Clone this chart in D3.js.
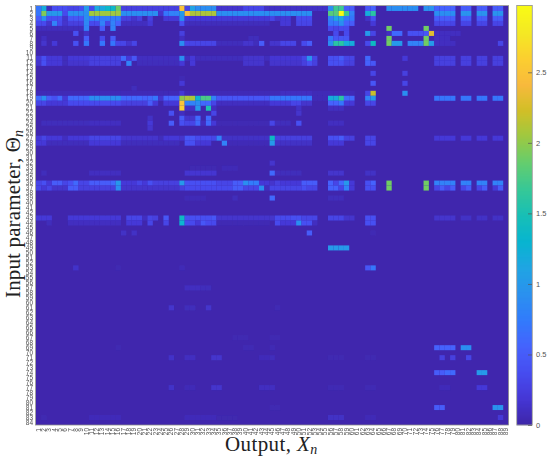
<!DOCTYPE html>
<html>
<head>
<meta charset="utf-8">
<script src="https://cdn.jsdelivr.net/npm/d3@7"></script>
<style>
  body { margin: 0; background: #fff; }
  svg { display: block; }
  text { font-family: "Liberation Sans", sans-serif; }
  .axis-title, .axis-title tspan { font-family: "Liberation Serif", serif; font-size: 21px; fill: #222; }
</style>
</head>
<body>
<svg width="550" height="458"></svg>
<script>
const rowCount = 84, colCount = 89;
const inputs = d3.range(1, rowCount + 1);
const outputs = d3.range(1, colCount + 1);
const barTicks = [0, 0.5, 1, 1.5, 2, 2.5];
const barMax = 2.97;
const background = 0.02;

// parula, sampled
const parula = ['#3e26a8', '#4537d5', '#474df0', '#4563fd', '#327bfc', '#2b91ef', '#20a5e3', '#08b5d0',
    '#18bfb6', '#37c897', '#64cd6f', '#9dc942', '#d1bf27', '#f8ba3d', '#fccf30', '#f5e924', '#f9fb15'];

// [row, first column, last column, value], later ones win
const top1 = [
    [1,1,1,.7],[1,2,2,1.2],[1,3,3,.08],[1,4,9,.38],[1,7,8,.3],[1,10,10,1.0],[1,11,11,.35],[1,12,15,1.15],[1,14,15,1.35],[1,16,16,1.9],
    [1,17,27,.25],[1,28,28,2.5],[1,29,29,.3],[1,30,30,1.1],[1,31,34,.9],[1,35,39,.15],[1,40,43,.3],[1,44,55,.12],
    [1,56,56,.9],[1,57,58,1.7],[1,59,60,.5],[1,63,63,.45],[1,64,64,.55],[1,67,72,.9],[1,74,75,.95],[1,76,79,.55],[1,81,82,.5],[1,84,85,.5],[1,87,88,.5],
    [2,1,1,.7],[2,2,2,1.95],[2,3,5,1.0],[2,6,6,.35],[2,7,10,.9],[2,11,16,2.05],[2,17,23,.9],[2,24,24,.15],[2,25,25,.7],[2,26,27,.8],[2,28,28,1.0],
    [2,29,29,2.45],[2,30,34,2.1],[2,35,52,.9],[2,56,57,1.8],[2,58,58,3.0],[2,59,59,1.7],[2,60,60,.8],[2,63,63,1.2],[2,64,64,1.6],[2,76,79,.9],[2,81,82,.95],[2,84,85,.95],[2,87,88,.95],
    [3,1,1,.5],[3,2,2,.9],[3,3,5,.4],[3,6,6,.15],[3,7,9,.45],[3,10,10,.9],[3,11,16,.75],[3,17,18,.25],[3,19,19,.15],[3,20,20,.25],[3,22,22,.25],[3,25,27,.2],[3,28,28,.9],[3,29,44,.2],
    [3,45,45,.3],[3,46,46,.15],[3,47,48,.2],[3,50,52,.35],[3,56,56,.8],[3,57,58,1.1],[3,59,60,.7],[3,63,63,.12],[3,64,64,.4],[3,76,79,.5],[3,81,82,.5],[3,84,85,.5],[3,87,88,.5],
    [4,1,2,.35],[4,3,3,.15],[4,4,4,.8],[4,5,5,.35],[4,6,6,.15],[4,7,9,.25],[4,10,10,.85],[4,11,12,.35],[4,13,13,.8],[4,14,14,.3],[4,15,15,.8],[4,16,16,.55],[4,17,22,.1],[4,22,22,.2],[4,28,28,.4],[4,29,44,.08],
    [4,47,48,.2],[4,50,52,.3],[4,56,57,.7],[4,58,58,.9],[4,59,59,.55],[4,60,60,.5],[4,64,64,.2],[4,76,79,.3],[4,81,82,.3],[4,84,85,.3],[4,87,88,.3],
    [5,1,9,.08],[5,10,10,.8],[5,13,13,.5],[5,15,15,.8],[5,56,56,.35],[5,57,57,.3],[5,58,59,.35],[5,67,67,1.9],[5,74,74,1.9],
    [6,8,8,.4],[6,10,10,.12],[6,28,28,.25],[6,57,57,.35],[6,59,59,.35],[6,63,63,1.0],[6,64,64,.3],[6,67,67,.1],[6,68,69,.6],[6,71,73,.4],[6,74,74,.45],[6,75,75,2.3],[6,76,80,.1],
    [7,2,2,.1],[7,10,10,.5],[7,13,13,.35],[7,15,15,.5],[7,28,28,.1],[7,56,56,.7],[7,57,59,.45],[7,67,67,1.9],[7,74,74,1.9],[7,76,78,.1],[7,41,42,.08],
    [8,2,2,.15],[8,4,4,.2],[8,8,8,.4],[8,10,10,.7],[8,13,13,.7],[8,15,15,.7],[8,16,17,.3],[8,18,18,.15],[8,19,19,.3],[8,28,28,.9],[8,29,34,.3],[8,35,42,.08],[8,40,41,.15],[8,43,43,.5],
    [8,45,47,.15],[8,47,49,.3],[8,51,51,.35],[8,52,52,.5],[8,56,56,.9],[8,57,58,1.6],[8,59,60,1.2],[8,63,63,.35],[8,64,64,1.4],[8,67,67,1.9],[8,68,69,1.0],[8,71,71,.8],[8,72,73,.8],[8,74,74,1.9],[8,75,75,1.0],[8,76,79,.1],[8,88,88,.3],
    [11,1,1,.2],[11,2,2,.4],[11,3,5,.2],[11,6,6,.08],[11,7,10,.2],[11,11,16,.25],[11,17,17,.6],[11,18,18,.2],[11,19,19,.45],[11,20,27,.1],[11,28,28,.9],[11,29,29,.1],[11,30,30,.2],[11,31,44,.08],[11,40,43,.15],
    [11,45,50,.18],[11,51,51,.3],[11,52,52,.95],[11,53,53,.3],[11,56,57,.4],[11,58,58,.5],[11,59,60,.3],[11,63,63,.6],[11,70,70,.2],[11,76,79,.25],[11,81,82,.25],[11,84,85,.25],[11,87,88,.25],
    [12,1,1,.15],[12,2,2,.4],[12,3,5,.2],[12,6,6,.08],[12,7,10,.15],[12,11,16,.25],[12,18,18,.8],[12,20,27,.08],[12,28,28,.2],[12,30,30,.2],[12,40,43,.15],
    [12,45,50,.15],[12,51,51,.25],[12,52,52,.4],[12,53,53,.25],[12,56,58,.4],[12,59,60,.25],[12,63,63,.55],[12,64,64,.45],[12,76,79,.25],[12,81,82,.25],[12,84,85,.25],[12,87,88,.25],
    [14,64,64,.3],[14,70,70,.25],
    [15,28,28,.05],
    [16,28,28,.2],[16,64,64,.45],[16,70,70,.3],
    [17,19,19,.08],
    [18,1,60,.06],[18,28,28,.2],[18,47,52,.1],[18,63,63,.3],[18,64,64,2.2],[18,70,70,.9]
];

const top2 = [
    [19,1,1,.6],[19,2,2,.9],[19,3,3,.5],[19,4,4,.4],[19,5,5,.6],[19,6,6,.2],[19,7,10,.6],[19,11,16,.9],[19,17,20,.6],[19,21,21,.55],[19,22,22,.6],[19,23,23,.7],[19,24,24,.15],[19,25,27,.55],
    [19,28,28,2.0],[19,29,30,2.1],[19,31,31,1.3],[19,32,33,1.75],[19,34,34,.8],[19,35,44,.45],[19,45,52,.7],[19,53,55,.06],[19,56,57,1.2],[19,58,58,1.6],[19,59,60,.6],[19,63,63,.8],[19,64,64,1.0],
    [19,76,79,.7],[19,81,82,.7],[19,84,85,.7],[19,87,88,.7],
    [20,1,2,.3],[20,3,6,.2],[20,7,16,.35],[20,17,21,.25],[20,22,22,.5],[20,23,23,.2],[20,25,27,.2],[20,28,28,2.5],[20,29,30,.8],[20,31,31,.9],[20,32,33,.6],[20,34,34,.3],[20,35,44,.1],
    [20,45,48,.2],[20,49,50,.3],[20,51,52,.15],[20,56,57,.55],[20,58,58,.7],[20,59,60,.2],[20,63,64,.3],
    [21,28,28,2.6],[21,29,30,.12],[21,31,31,1.0],[21,33,33,1.5],[21,34,34,.1],[21,50,50,.12],[21,56,58,.1],
    [22,26,26,.4],[22,28,28,.1],[22,34,34,.3],[22,50,50,.15],
    [23,22,22,.12],[23,28,28,.5],[23,29,30,.15],[23,31,31,.6],[23,33,33,.6],
    [24,2,16,.08],[24,11,16,.1],[24,22,22,.2],[24,26,26,.5],[24,28,28,.4],[24,29,30,.3],[24,31,31,.6],[24,32,32,.1],[24,33,33,.6],[24,34,34,.2],[24,35,44,.05],[24,45,45,.3],[24,46,48,.08],[24,50,50,.4],[24,56,58,.1],
    [25,22,22,.15],
    [27,1,1,.2],[27,2,2,.3],[27,3,5,.2],[27,6,6,.1],[27,7,10,.2],[27,11,16,.3],[27,17,23,.15],[27,24,24,.08],[27,25,27,.2],[27,28,28,.15],[27,29,30,.45],[27,31,33,.35],[27,34,34,.3],[27,35,35,.8],[27,36,44,.12],[27,45,45,1.4],
    [27,46,52,.25],[27,56,57,.4],[27,58,58,.5],[27,59,60,.25],[27,63,64,.3],[27,76,79,.2],[27,81,82,.2],[27,84,85,.2],[27,87,88,.2],
    [28,1,2,.2],[28,3,10,.08],[28,11,16,.2],[28,17,27,.08],[28,29,30,.4],[28,31,33,.2],[28,36,36,.8],[28,37,44,.06],[28,45,45,1.0],[28,46,52,.12],[28,56,58,.2],[28,63,64,.3],
    [32,45,45,.15],
    [33,36,38,.06],[33,30,34,.04],
    [34,2,2,.08],[34,11,16,.1],[34,29,34,.17],[34,45,45,.6],[34,46,50,.08],[34,56,58,.15],[34,63,64,.12],
    [36,1,1,.3],[36,2,2,.4],[36,3,3,.2],[36,4,5,.5],[36,6,6,.3],[36,7,7,.4],[36,8,8,.6],[36,9,10,.3],[36,11,14,.5],[36,15,15,.6],[36,16,16,1.0],[36,17,19,.2],[36,20,20,.3],[36,21,21,.2],[36,22,22,.4],[36,23,27,.25],
    [36,28,28,1.0],[36,29,34,.4],[36,35,37,.3],[36,38,39,.5],[36,40,40,.9],[36,41,42,.75],[36,43,44,.2],[36,45,45,.15],[36,46,46,.25],[36,47,50,.2],[36,51,53,.5],[36,56,56,.55],[36,57,57,.3],[36,58,58,.6],[36,59,59,1.0],[36,60,60,.2],[36,63,63,.4],[36,64,64,.55],
    [36,67,67,1.9],[36,74,74,1.9],[36,76,79,.8],[36,81,82,.8],[36,84,85,.8],[36,87,88,.8],
    [37,1,1,.3],[37,2,2,.2],[37,3,3,.3],[37,4,6,.15],[37,7,8,.5],[37,9,15,.25],[37,16,16,.9],[37,17,27,.15],[37,28,28,.25],[37,29,37,.35],[37,38,39,.5],[37,40,42,.3],[37,43,43,.9],[37,44,44,.1],
    [37,45,50,.3],[37,51,51,.4],[37,52,53,.3],[37,56,57,.55],[37,58,58,.3],[37,59,59,.8],[37,60,60,.2],[37,63,64,.4],[37,67,67,1.9],[37,74,74,1.9],[37,76,76,.3],[37,77,77,.5],[37,78,78,.3],[37,79,79,.5],[37,81,81,.3],[37,82,82,.5],[37,84,84,.3],[37,85,85,.5],[37,87,87,.2],[37,88,88,.5],
    [39,29,32,.06],[39,38,38,.08],[39,45,45,.6],[39,56,58,.08],
    [43,1,3,.2],[43,7,16,.2],[43,18,20,.3],[43,21,21,.1],[43,22,22,.3],[43,23,23,.25],[43,25,25,.45],[43,28,28,1.4],[43,29,33,.4],[43,34,34,.45],[43,35,45,.15],[43,46,48,.35],[43,49,50,.4],[43,51,53,.3],[43,56,58,.3],[43,59,60,.15],[43,63,64,.4],[43,76,79,.15],[43,81,82,.12],[43,84,85,.12],[43,87,88,.12],
    [44,3,3,.08],[44,7,16,.1],[44,18,20,.2],[44,22,22,.3],[44,25,25,.3],[44,28,28,1.3],[44,29,30,.35],[44,31,31,.2],[44,32,32,.45],[44,33,34,.35],[44,35,44,.05],[44,46,46,.35],[44,47,49,.2],[44,50,50,.9],[44,51,52,.4],[44,53,53,.1],[44,63,64,.4]
];

const lower = [
    [46,17,17,.12],[46,19,19,.12],[46,52,52,.5],[46,64,64,.05],
    [49,56,59,1.0],
    [53,8,8,.14],[53,16,16,.04],[53,28,28,.06],[53,63,63,.45],[53,64,64,.7],
    [57,29,31,.1],[57,32,33,.08],
    [61,26,26,.15],[61,29,30,.08],[61,33,33,.15],[61,46,46,.05],
    [67,38,40,.04],[67,45,46,.04],
    [69,16,16,.04],[69,40,41,.05],[69,45,45,.05],[69,76,79,.55],[69,81,82,.9],
    [71,26,26,.13],[71,29,30,.1],[71,34,35,.15],[71,43,44,.07],[71,45,45,.08],[71,56,58,.04],[71,63,64,.04],[71,77,77,.25],[71,79,79,.25],[71,82,82,.3],
    [74,76,77,.5],[74,78,79,.6],[74,84,85,1.0],
    [77,26,26,.13],[77,29,30,.06],[77,34,35,.15],[77,43,45,.1],[77,56,58,.05],[77,63,64,.05],[77,77,78,.07],[77,84,85,.2],
    [81,76,77,.5],[81,87,88,.95],[81,45,46,.04],
    [83,2,2,.04],[83,11,16,.07],[83,29,34,.07],[83,35,38,.03],[83,56,58,.12],[83,63,64,.06],[83,88,88,.2]
];

const svg = d3.select('svg');
const plot = { left: 36, right: 508.5, top: 6, bottom: 425 };
const bar = { left: 517, right: 532 };

const x = d3.scaleBand().domain(outputs).range([plot.left, plot.right]);
const y = d3.scaleBand().domain(inputs).range([plot.top, plot.bottom]);
const c = d3.scaleLinear()
    .domain(parula.map((d, i) => i / (parula.length - 1) * barMax))
    .range(parula)
    .clamp(true);
const barY = d3.scaleLinear().domain([0, barMax]).range([plot.bottom, plot.top]);

const patches = top1.concat(top2, lower);
const cells = new Map();
patches.forEach(p => {
    d3.range(p[1], p[2] + 1).forEach(col => cells.set(p[0] + '-' + col, p[3]));
});
const grid = d3.cross(inputs, outputs, (row, col) => ({
    row, col, value: cells.has(row + '-' + col) ? cells.get(row + '-' + col) : background
}));

const defs = svg.append('defs');
defs.append('filter').attr('id', 'soft')
    .attr('x', '-2%').attr('y', '-2%').attr('width', '104%').attr('height', '104%')
    .append('feGaussianBlur').attr('stdDeviation', 0.55);
defs.append('filter').attr('id', 'softer')
    .attr('filterUnits', 'userSpaceOnUse').attr('x', -600).attr('y', -600).attr('width', 1800).attr('height', 1800)
    .append('feGaussianBlur').attr('stdDeviation', 0.3);

const heat = svg.append('g').attr('filter', 'url(#soft)');
heat.append('rect')
    .attr('x', plot.left).attr('y', plot.top)
    .attr('width', plot.right - plot.left).attr('height', plot.bottom - plot.top)
    .attr('fill', c(background));
heat.selectAll('rect.cell')
    .data(grid.filter(d => d.value !== background))
    .join('rect')
    .attr('class', 'cell')
    .attr('x', d => x(d.col))
    .attr('y', d => y(d.row))
    .attr('width', x.bandwidth())
    .attr('height', y.bandwidth())
    .attr('fill', d => c(d.value));

// box round the image
svg.append('rect')
    .attr('x', plot.left - 0.5).attr('y', plot.top - 0.5)
    .attr('width', plot.right - plot.left + 0.5).attr('height', plot.bottom - plot.top + 0.5)
    .attr('fill', 'none').attr('stroke', '#8a8a8a').attr('stroke-width', 0.8);

const yAxis = svg.append('g')
    .attr('transform', 'translate(' + plot.left + ',0)')
    .attr('filter', 'url(#softer)')
    .call(d3.axisLeft(y).tickSize(0).tickPadding(3));
yAxis.select('.domain').remove();
yAxis.selectAll('text').attr('font-size', 6.5).attr('fill', '#505050').style('font-family', '"Liberation Sans", sans-serif');

const xAxis = svg.append('g')
    .attr('transform', 'translate(0,' + plot.bottom + ')')
    .attr('filter', 'url(#softer)')
    .call(d3.axisBottom(x).tickSize(0).tickPadding(0));
xAxis.select('.domain').remove();
xAxis.selectAll('text')
    .attr('font-size', 6.5)
    .attr('fill', '#505050')
    .style('font-family', '"Liberation Sans", sans-serif')
    .attr('text-anchor', 'end')
    .attr('dy', '0.32em')
    .attr('y', 0)
    .attr('transform', 'translate(0,3) rotate(-90)');

// colorbar
const barSteps = d3.range(0, 420);
svg.append('g').selectAll('rect')
    .data(barSteps)
    .join('rect')
    .attr('x', bar.left)
    .attr('y', d => plot.bottom - d - 1)
    .attr('width', bar.right - bar.left)
    .attr('height', 1.2)
    .attr('fill', d => c(barY.invert(plot.bottom - d - 0.5)));
svg.append('rect')
    .attr('x', bar.left - 0.3).attr('y', plot.top - 0.5)
    .attr('width', bar.right - bar.left + 0.6).attr('height', plot.bottom - plot.top + 0.5)
    .attr('fill', 'none').attr('stroke', '#9a9a9a').attr('stroke-width', 0.9);

const barAxis = svg.append('g')
    .attr('transform', 'translate(' + bar.right + ',0)')
    .call(d3.axisRight(barY).tickValues(barTicks).tickFormat(d => d).tickSizeInner(-4).tickSizeOuter(0).tickPadding(4));
barAxis.select('.domain').remove();
barAxis.selectAll('line').attr('stroke', '#555').attr('stroke-width', 0.7);
barAxis.selectAll('text').attr('font-size', 7.5).attr('fill', '#555').style('font-family', '"Liberation Sans", sans-serif');

// axis titles
const xTitle = svg.append('text').attr('class', 'axis-title').attr('x', 225).attr('y', 451).attr('letter-spacing', 0.4);
xTitle.append('tspan').text('Output, ');
xTitle.append('tspan').style('font-style', 'italic').text('X');
xTitle.append('tspan').style('font-style', 'italic').style('font-size', '14px').attr('dy', 3).text('n');

const yTitle = svg.append('text').attr('class', 'axis-title')
    .attr('letter-spacing', 0.15)
    .attr('transform', 'translate(20,298) rotate(-90)');
yTitle.append('tspan').text('Input parameter, Θ');
yTitle.append('tspan').style('font-style', 'italic').style('font-size', '14px').attr('dy', 3).text('n');
</script>
</body>
</html>
